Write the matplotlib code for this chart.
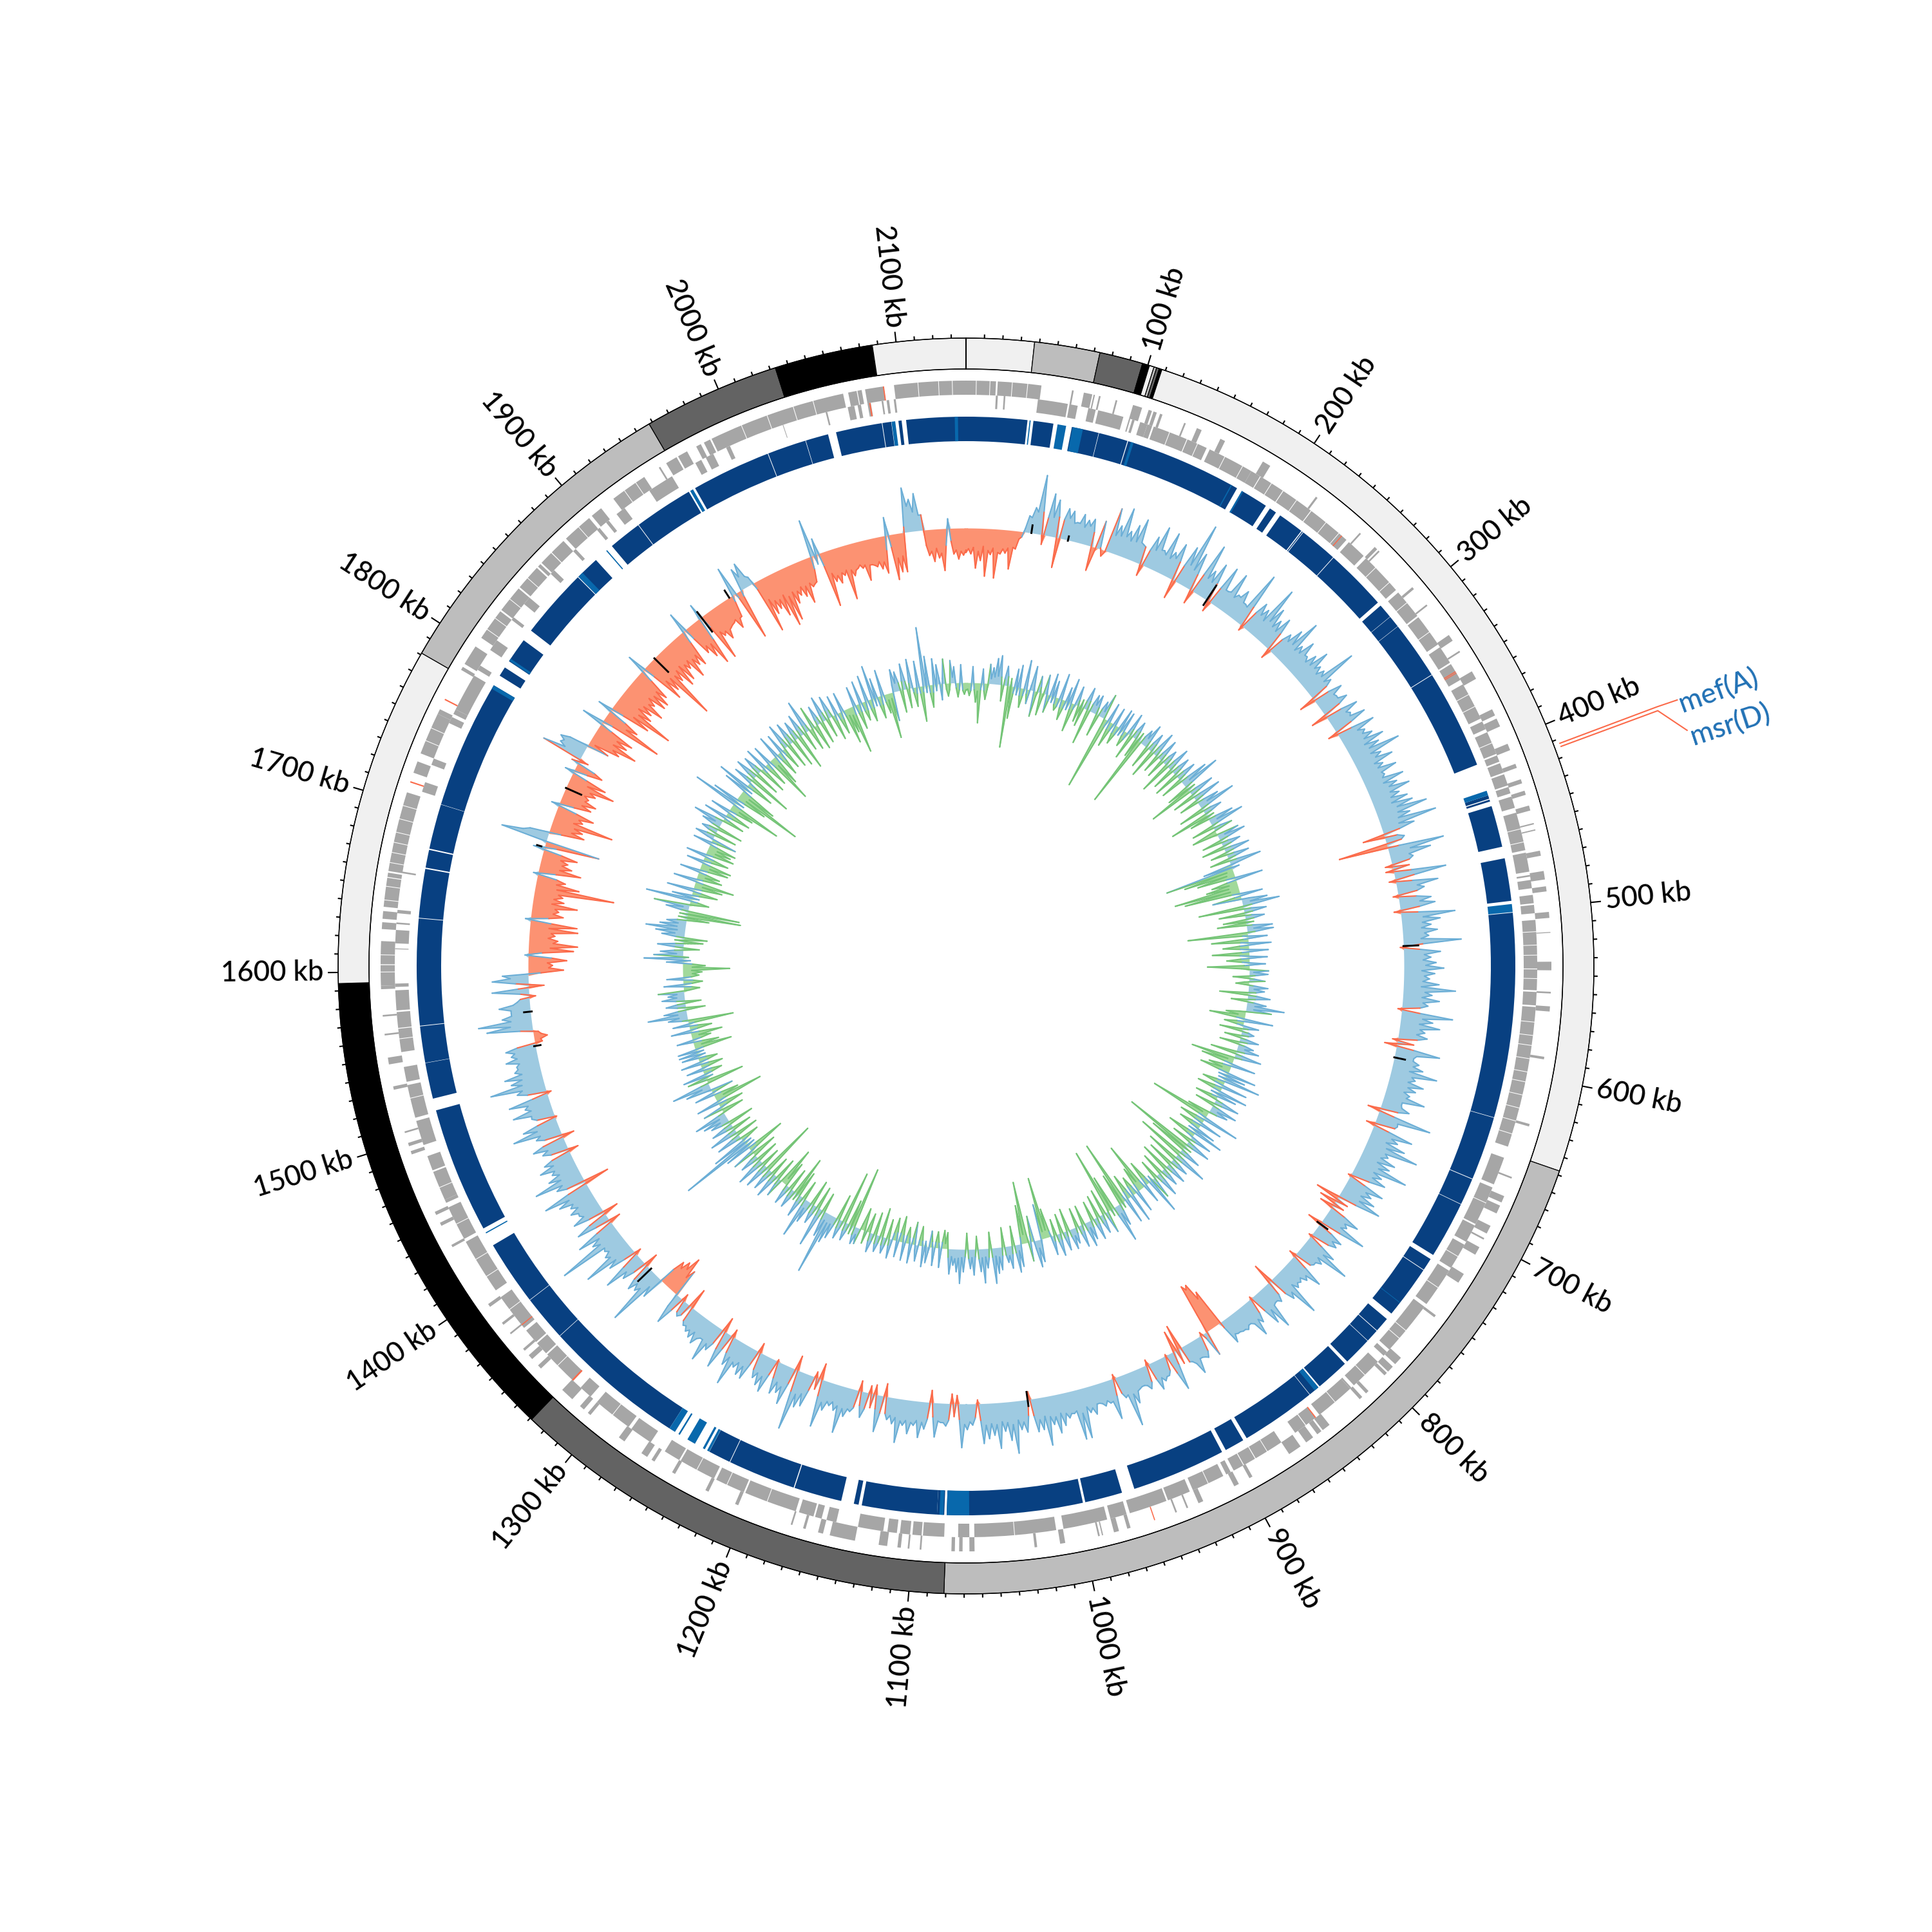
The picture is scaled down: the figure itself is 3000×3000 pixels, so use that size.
import numpy as np
import matplotlib
matplotlib.use("Agg")
import matplotlib.pyplot as plt
from matplotlib.collections import LineCollection

plt.rcParams['font.family'] = ['Lato', 'DejaVu Sans']

GENOME_KB = 2138.0
WINDOW_KB = 2.0

sector_edges = [0, 37.3, 73.2, 97, 100.9, 103.5, 105, 106.5, 108, 647.7, 1081, 1329, 1594, 1781, 1958, 2033, 2087, 2138]
sector_shades = ['#f0f0f0', '#bdbdbd', '#636363', '#000000', '#f0f0f0', '#bdbdbd', '#636363', '#000000',
                 '#f0f0f0', '#bdbdbd', '#636363', '#000000', '#f0f0f0', '#bdbdbd', '#636363', '#000000', '#f0f0f0']

major_ticks = [100, 200, 300, 400, 500, 600, 700, 800, 900, 1000, 1100, 1200, 1300, 1400, 1500, 1600, 1700, 1800, 1900, 2000, 2100]

outer_strand_genes = [
 (0,17.5),(18.5,44),(62,63),(69,74),(74.8,75.6),(78,79),(88,89),(98.5,104),(108,110),(111,113),(115,116.5),(130,131),
 (138,141),(153,156),(181,186),(218,219.2),(251,252),(263,265),(266,267),(295,296.5),(308,309),(330,334),(341,342),
 (355,360),(380,384),(386,391),(402,406),(414.5,417),(424,426.5),(431,433.5),(440,443),(450.5,451.3),(454.3,455),
 (467,470),(479,484),(488,491),(503,506.5),(514.7,515.2),(532,537),(549.5,550.5),(558,561),(587.5,589),(627.5,629),
 (660,661),(672,676),(678,683),(691,696),(699,700),(705,710),(723,729),(752,753.5),(784,789),(791,795),(796,798),
 (811,813),(816,818),(841,846),(847,850),(853,858),(862,870),(895,897),(904,907),(927,930),(936.5,937.5),(943.5,944.5),
 (972,974),(979,982),(988.5,989.2),(990.5,991.5),(1011,1014),(1027.5,1029),(1064,1067),(1071,1073),(1075.5,1077.5),
 (1095,1096),(1102,1103),(1107,1109),(1115,1120),(1134,1149),(1153,1156),(1163.5,1165),(1171.5,1172.5),(1205,1207),
 (1224,1226),(1246,1248),(1260,1262),(1265,1269),(1281,1285),(1306,1308),(1311,1314),(1320,1328),(1345.5,1348),
 (1353,1356),(1359.5,1361),(1372,1373),(1379,1380.5),(1392,1394),(1433,1434.5),(1447,1449),(1454,1456),(1492,1494),
 (1497,1499),(1505,1506),(1531,1533),(1546,1550),(1563,1564),(1574,1575),(1590,1592),(1592,1604),(1604.5,1618),
 (1625,1629),(1631,1635.5),(1638,1655),(1655.5,1658),(1659,1706),(1718,1725),(1730,1755),(1755,1758),(1784,1786),
 (1788,1800),(1806,1825),(1826,1842),(1843,1858),(1859,1861),(1862,1870),(1870.5,1880),(1882,1900),(1902,1909),
 (1918,1940),(1950,1951),(1955,1962),(1963,1969),(1975,1978),(1980,1984),(1985,2066),(2069,2074),(2074.5,2077),
 (2079,2090),(2096,2138)]

inner_strand_genes = [
 (17.8,19),(22.5,23.5),(43,61),(62,67),(73.5,78),(79.5,95),(98.5,99.3),(100.5,102),(105.5,110),(110,113),(114,135),
 (135.5,148),(150,178),(178,184),(184.5,200),(200.5,220.5),(221,248),(250,262),(264,290),(292,310),(311,331),(333,344),
 (345,356),(359,382),(384,389),(391,405),(406,410),(411,417),(418,425),(426,430),(432,439),(442,465),(466.5,478),
 (480,481),(483,488),(492,497),(498,503),(507,536),(536.5,549),(550,558),(559,644),(651,668),(670,694),(695,706),
 (708,724),(726,750),(752,785),(787,790),(795,815),(817,818),(818,842),(845,852),(852.5,860),(870,888),(888.5,896),
 (896.5,903),(905,908),(910,930),(932,946),(947,970),(972,982),(984,1010.6),(1015,1064),(1067,1073.7),(1082,1094.7),
 (1095.5,1101),(1102.4,1108.5),(1110.3,1116),(1118.5,1133.8),(1147,1153),(1156,1160),(1161,1170),(1172,1204),
 (1205,1223),(1224.5,1247),(1248,1258),(1268,1282),(1284,1308),(1313,1321),(1327,1349),(1350,1358),(1359,1368),
 (1370,1393),(1398,1432),(1434,1455),(1458,1460),(1460,1478),(1479,1488),(1495,1510),(1512,1532),(1534,1543),
 (1552,1566),(1566.5,1576),(1577,1589),(1591,1593),(1613.5,1614),(1617,1625),(1628.5,1629.5),(1635,1637),(1659,1660),
 (1709,1715),(1726,1730),(1753,1757),(1759,1762),(1762,1785),(1789,1792),(1803,1810),(1825,1827),(1837,1842),
 (1861,1864),(1880,1882),(1899,1901),(1906,1908),(1914,1920),(1938,1954),(1970,1974),(1977,1982),(1990.5,1993),
 (2026.8,2027.2),(2053.5,2054.5),(2067,2071),(2073,2075),(2079,2081),(2087.5,2088.5),(2090.5,2092),(2094.8,2096)]

# thin breaks between neighbouring genes inside the dense stretches
outer_strand_breaks = [6, 14, 27, 36, 2110, 2122, 2130, 2004, 2020, 2036, 2048, 1600, 1610, 1642, 1650, 1664, 1670, 1676,
                       1682, 1690, 1698, 1738, 1746, 1812, 1820, 1834, 1850, 1892, 1926, 1934]
inner_strand_breaks = [124, 142, 160, 172, 192, 210, 232, 242, 272, 284, 300, 322, 366, 374, 398, 452, 460, 514, 522, 528,
                       542, 568, 576, 582, 590, 598, 604, 612, 620, 628, 636, 680, 716, 738, 770, 776, 806, 830, 880, 920,
                       1040, 1190, 1216, 1236, 1296, 1340, 1384, 1408, 1420, 1444, 1468, 1524, 1560]

flagged_outer_genes = [(2089.5,2090.2),(1712,1712.8),(1764,1764.8),(957,957.6)]
flagged_inner_genes = [(2080,2080.8),(244,244.6),(350,350.6),(351,351.5),(844.5,845.2),(1327,1328),(1372,1372.6)]

homology_dark = [
 (0,38.2),(41.9,54.4),(66,83),(83.3,101.5),(102,175.6),(179,196.5),(199.5,204),(207.2,223.4),(224,224.6),(225,249),
 (249.4,288.5),(291,300),(300.2,307.6),(307.8,344.2),(344.6,406.8),(427,429.2),(429.8,431),(434,460),(467.3,494),
 (501.4,629.5),(629.8,669.8),(670.2,687),(687.3,723),(726,733.8),(734.2,767.6),(772,781.3),(781.7,789.8),(790.1,808),
 (810,831),(832,838.8),(839.1,886.5),(889,901.4),(904,963),(971,994.5),(996,1081),(1082.5,1087),(1087,1134),(1136,1139),
 (1147,1177),(1177.6,1220),(1220.4,1234.4),(1263,1352),(1352.3,1381),(1381.3,1422),(1434,1513),(1520.5,1543),
 (1543.2,1566),(1566.4,1633),(1633.4,1664),(1664.8,1676),(1676.8,1705),(1705.2,1786),(1793,1799),(1803.6,1819.5),
 (1827,1871),(1871.5,1886.5),(1899.6,1920.4),(1920.8,1958),(1962.5,2012.3),(2012.7,2037),(2037.3,2051.6),
 (2056.7,2085.6),(2086,2091.5),(2096,2098),(2100.8,2138)]

homology_light = [
 (39.5,40.2),(57,62.4),(66.5,73),(103.8,105.5),(171.3,172),(179,180),(424,427),(496,501),(758.8,759.2),(832,835),
 (1067,1081),(1083,1085.5),(1234.5,1236),(1237.6,1239),(1244.6,1250),(1255.5,1256.5),(1259,1263),(1430.5,1431.2),
 (1783.5,1786),(1804,1805.5),(1871.5,1875),(1895,1895.7),(1959,1961),(2091.7,2094),(2131,2133)]

skew_at_even = [
 -38,-40,-62,-50,-74,-40,-76,-38,-36,-60,-28,-8,26,40,92,-15,66,58,-47,48,46,30,45,38,42,
 -38,44,-10,70,45,76,42,55,68,30,-18,50,70,35,68,40,58,-30,62,104,60,-22,84,45,62,
 -17,66,30,66,35,48,30,90,-8,50,45,90,60,45,55,-16,40,55,78,40,55,35,45,60,40,
 40,88,40,-25,47,32,45,-25,52,35,55,-15,60,40,48,62,50,80,45,60,40,58,35,62,48,
 65,45,55,60,80,50,89,51,-34,30,-77,88,65,35,-11,-12,81,-10,65,42,-8,50,55,-10,84,
 60,45,54,40,90,-5,57,42,50,62,48,40,55,81,45,57,40,-6,80,50,62,40,45,-8,-19,
 69,30,40,48,72,40,55,45,38,64,30,45,-19,85,35,-13,65,45,60,84,40,55,50,82,45,
 55,-4,60,45,55,69,-37,-26,-21,52,38,74,-22,45,42,-4,50,80,40,32,-10,58,40,35,38,
 80,45,-32,35,30,69,55,-3,40,57,30,35,32,30,40,-60,-78,-80,40,-5,35,30,52,28,-39,
 -33,61,-2,30,35,45,-8,37,28,30,50,83,35,-6,63,35,37,30,45,40,78,78,35,40,50,
 60,45,76,50,52,-12,50,45,81,60,45,71,50,55,62,-6,33,40,68,-13,-15,35,30,53,-19,
 42,56,38,52,40,68,40,35,-20,57,-15,-12,40,-16,35,45,73,40,35,45,74,-25,-9,50,55,
 94,-23,60,45,50,-3,55,48,40,-15,50,48,40,73,45,-12,59,-23,40,63,30,45,40,35,30,
 -32,25,-11,50,-45,-63,-50,-44,36,91,40,45,-22,40,65,-10,45,82,40,35,107,45,64,-18,54,
 -24,50,35,45,40,55,75,-40,45,77,50,40,56,45,-16,40,52,-19,40,74,55,-3,35,62,40,
 63,-7,45,85,50,58,40,35,50,40,47,-12,-21,-8,71,83,45,30,48,19,-10,57,-24,56,40,
 -55,-38,-60,5,-70,-76,-45,-40,-75,-73,8,-50,-42,-70,-48,-45,-124,-68,-45,7,-66,-50,-42,-55,17,
 -86,73,30,-55,-50,-96,-45,-60,12,-50,-55,-40,-48,-75,-58,14,-45,11,65,40,44,-35,-50,-75,-55,
 -60,34,-98,-55,22,-65,-100,-60,-55,-70,-50,-64,-64,-55,29,-70,-60,-115,-55,-70,-65,-50,-71,-55,-60,
 32,-50,-62,-79,24,-80,-45,-55,-40,-37,-50,-35,46,-80,35,40,12,-85,-60,-55,-70,-90,-84,-60,-50,
 -55,-68,-45,-40,58,25,-87,-50,-55,-45,-85,-50,-40,-42,-63,-40,-45,-50,-58,28,-71,-60,-61,69,50,
 58,24,-40,-50,-45,-65,15,-40,-48,-42]

skew_at_odd = [
 -32,-30,-36,-28,-34,-30,-36,-30,-28,-26,-12,6,24,34,35,28,30,32,30,34,28,30,26,30,22,
 -6,2,-2,28,30,32,28,30,32,28,26,30,34,30,28,32,30,28,34,30,26,32,30,28,30,
 28,30,32,28,34,30,28,34,30,32,28,34,30,28,30,26,30,32,28,30,34,28,30,32,28,
 32,30,28,26,30,32,28,26,30,32,28,24,30,34,32,28,32,30,34,28,30,32,30,28,34,
 32,30,28,34,32,30,28,26,20,24,18,34,30,28,26,28,30,26,32,30,28,32,30,28,34,
 32,30,34,28,30,26,32,30,34,28,32,30,28,34,30,32,28,30,34,30,32,28,30,26,28,
 34,30,32,28,34,30,32,28,34,30,32,28,26,34,32,26,34,28,32,34,30,28,34,30,32,
 30,28,34,30,32,30,20,18,26,32,30,34,24,32,30,24,34,30,32,28,26,34,30,32,28,
 36,30,24,30,32,34,28,26,32,34,30,32,30,28,10,-50,-72,-30,8,26,32,30,34,26,24,
 22,32,24,30,28,26,28,30,28,32,34,32,26,28,34,30,32,30,34,30,38,32,34,32,30,
 34,32,30,34,26,26,34,30,36,32,30,34,32,34,26,22,28,32,24,20,26,30,28,22,26,
 32,30,34,32,34,30,28,26,28,22,22,26,22,28,32,34,32,28,30,34,26,18,24,32,36,
 34,26,34,30,26,26,32,30,28,24,32,30,34,30,26,26,30,26,32,30,34,28,30,28,24,
 20,20,24,22,-30,-40,-35,-25,20,32,30,28,22,30,28,20,30,34,30,32,34,30,28,24,30,
 26,30,34,30,34,36,32,30,34,32,30,34,32,30,28,30,34,28,32,34,30,28,34,32,34,
 24,30,36,34,32,30,34,30,32,34,28,-10,-12,20,34,32,30,30,26,14,14,16,20,28,-20,
 -32,-30,-36,-22,-34,-38,-30,-34,-30,-32,-28,-34,-36,-30,-32,-38,-34,-32,-30,-28,-32,-34,-30,-28,-20,
 10,40,-20,-34,-36,-32,-38,-30,-24,-34,-36,-32,-38,-30,-24,-22,-30,-15,30,36,30,-10,-38,-34,-36,
 -20,-18,-38,-30,-22,-36,-40,-34,-38,-42,-36,-40,-38,-20,-20,-38,-40,-42,-38,-36,-40,-38,-42,-40,-20,
 -20,-40,-42,-38,-22,-36,-40,-42,-38,-34,-36,-10,-10,-10,20,16,-12,-34,-40,-42,-38,-44,-40,-42,-38,
 -40,-38,-42,-20,-15,-22,-36,-42,-40,-38,-40,-42,-36,-38,-40,-42,-38,-40,-22,-20,-38,-36,10,40,30,
 24,-24,-34,-30,-38,-26,-20,-34,-36,-34]

content_at_even = [
 -12,-20,25,-30,-62,22,-25,30,25,40,45,-25,30,-96,-50,28,35,-30,45,-22,38,-40,25,-35,30,
 -28,35,25,-20,40,-32,22,38,-45,30,-25,-30,35,-55,28,30,-35,25,40,-116,30,-40,28,-30,32,
 30,-25,35,-40,28,-30,-113,25,38,-35,30,-45,40,-28,35,-30,25,-50,38,-35,30,-40,32,-35,45,
 62,-35,-70,40,-35,45,-30,35,59,-40,30,-61,-30,40,54,-35,30,-40,35,43,-30,30,-35,40,-25,
 35,-30,50,-45,-108,-80,-60,43,-40,-50,-102,-87,35,-45,40,58,-70,35,-40,30,-35,-45,40,41,-93,
 30,-57,35,-40,30,-57,28,-35,25,-65,30,29,-25,25,-20,30,25,-44,35,-25,30,59,40,-30,-55,
 45,-30,25,-35,20,-25,30,-30,25,35,-40,42,-68,-50,38,-35,-47,45,30,56,-35,40,-39,45,30,
 -35,40,-30,42,30,-35,-95,57,-40,35,-35,30,47,-45,35,-30,40,-107,-60,35,-74,54,-50,30,-40,
 35,-45,30,-35,40,-30,35,57,-40,30,-78,-40,35,-30,45,-40,40,-103,-50,35,59,-55,-102,35,-40,
 30,-35,35,-30,30,39,-30,35,-30,25,32,-35,30,-30,35,-25,30,-45,-96,-55,35,42,-40,30,-96,
 -60,35,43,-30,35,25,-30,35,40,55,-25,30,53,35,-20,40,30,-25,35,53,35,25,39,-25,-28,
 30,-25,28,-25,25,32,-30,25,-35,30,-25,28,-40,25,-35,30,-30,25,-45,26,-35,30,-30,20,-35,
 25,27,-95,-40,28,-82,30,-40,35,45,99,40,-30,62,-35,30,-40,35,63,-30,35,-40,-62,30,-35,
 31,-40,-61,30,-35,40,-30,35,-88,40,-30,45,-35,30,-40,35,-62,40,114,55,-30,40,-35,45,-30,
 35,-40,30,40,51,-35,30,-40,35,-77,-40,30,-35,40,60,-59,30,35,-30,25,-35,30,-30,25,28,
 28,-59,-40,25,-30,-49,30,-35,25,-71,30,61,35,-30,30,-25,35,25,40,-25,30,-30,25,-25,-30,
 -73,-35,25,60,45,35,-25,40,-30,-36,35,45,61,40,30,-35,-84,-81,35,55,-30,70,30,-40,41,
 -45,-62,35,-40,-35,30,-45,-48,25,-40,30,-45,-38,-44,28,-40,30,-35,25,-40,30,47,-35,35,-40,
 30,-40,-83,70,40,-50,-107,-60,35,50,-45,30,-69,35,-40,30,-45,35,-40,30,-77,-50,35,-40,30,
 -35,40,-40,35,-45,30,-56,35,-30,52,-35,35,-40,30,-35,40,-30,35,-40,30,-35,30,-55,-40,-75,
 30,-40,35,-30,40,-35,52,30,-35,40,-30,-71,-45,35,30,-35,40,-30,45,-30,40,-55,91,45,-35,
 40,30,-25,38,-20,35,25,-22,28,-18]

content_at_odd = [
 -10,-12,-11,-13,-10,-12,-9,8,11,13,12,10,14,12,-10,-12,-13,-11,-8,7,8,-7,8,-8,8,
 -9,-10,-12,-13,-14,-12,-13,-11,-8,8,12,13,14,12,13,11,12,10,-9,-11,-13,-12,-14,-13,-11,
 -9,-12,10,12,13,14,12,13,11,12,13,14,12,10,11,13,12,14,11,13,12,14,11,13,12,
 12,13,11,14,12,13,11,14,12,13,11,12,13,12,10,12,-9,-11,11,13,12,14,12,13,12,
 12,13,11,12,-10,-12,-14,-15,-13,-15,-14,-12,-10,12,13,14,12,13,11,13,12,10,11,12,-8,
 -8,-12,-14,-13,-12,-14,-13,-11,-8,-12,7,9,8,-7,8,9,12,14,12,11,13,12,-9,-11,-12,
 -11,-9,9,11,12,10,13,11,12,13,11,12,-9,-12,-14,-13,-15,-14,-12,-13,-14,-12,-11,-13,-10,
 12,13,11,12,13,-9,-12,-14,-13,-15,-12,-14,-13,-10,9,11,12,13,11,10,12,13,12,13,11,
 12,13,11,13,12,9,-8,-11,-12,-13,-14,-12,-13,-15,-14,-12,-9,9,12,14,13,11,-8,9,11,
 12,11,10,12,10,12,11,13,10,12,11,10,9,11,12,10,-9,-12,-11,10,13,12,-9,-13,-14,
 -10,10,12,14,15,13,14,15,13,14,15,13,14,15,12,13,14,12,13,14,15,12,13,-8,-9,
 -9,-8,-9,8,-8,-9,-8,9,-9,-10,-11,-12,-13,-14,-10,10,12,13,12,14,12,13,-10,-12,-9,
 11,13,14,12,13,11,14,12,13,14,12,13,14,12,13,14,12,13,11,12,10,11,13,12,11,
 9,-10,-11,10,11,13,12,14,12,13,12,14,11,9,-10,-12,-13,-14,-12,-9,9,12,13,11,13,
 12,14,13,11,9,-10,-12,-14,-15,-14,-12,-8,10,13,12,-8,-12,-13,-14,-12,-13,-14,-12,-13,-12,
 -14,-12,-13,-14,-12,-13,-12,-13,-10,10,13,14,12,13,12,14,12,11,-9,-12,-14,-15,-13,-15,-14,
 -15,-14,-12,-9,10,13,14,12,14,13,15,12,13,12,14,13,12,11,9,-8,-11,-13,-12,-13,-14,
 -13,-12,-11,-13,-12,-14,-15,-13,-14,-15,-13,-14,-15,-12,-10,9,12,13,14,12,10,12,-9,-12,-13,
 -14,-15,-14,-16,-15,-14,-16,-15,-13,-12,-10,9,12,13,12,11,-9,-11,-12,-13,-14,-12,-13,-14,-10,
 10,12,13,14,12,13,11,13,12,9,-8,-10,8,10,11,12,13,11,-9,-11,-12,-10,-11,-13,-14,
 -14,-13,-15,-14,-15,-14,-13,-15,-14,-12,-10,-9,11,13,12,14,12,9,-8,-10,-12,-9,-11,-13,-12,
 -10,9,8,-9,-10,9,-8,-10,-12,-11]

excursion_kb = [51, 80, 198, 519, 606, 748.6, 1021, 1343, 1541, 1568, 1697, 1746, 1868.6, 1917, 1943.6]
excursion_low = [0, -1, -9, 0, 0, -5, -12, -2, -8, -2, 5, -26, -30, -28, 0]
excursion_high = [12, 6, 27, 23, 17, 14, 10, 26, 2, 10, 12, 0, 0, 10, 13]

gene_labels = ['mef(A)', 'msr(D)']

def kb2th(kb):
    return np.asarray(kb, dtype=float) / GENOME_KB * 2 * np.pi

def interleave(even, odd):
    out = np.empty(len(even) + len(odd))
    out[0::2] = even
    out[1::2] = odd
    return out

fig = plt.figure(figsize=(10, 10), dpi=300, facecolor='white')
ax = fig.add_axes([0, 0, 1, 1], polar=True)
ax.set_theta_zero_location('N')
ax.set_theta_direction(-1)
ax.set_rlim(0, 1500)
ax.axis('off')

R_RING_IN, R_RING_OUT = 927, 975

def ring_bar(spans, r0, r1, color, **kw):
    s = np.array(spans, dtype=float)
    ax.bar(kb2th((s[:, 0] + s[:, 1]) / 2), r1 - r0, width=kb2th(s[:, 1] - s[:, 0]), bottom=r0,
           color=color, linewidth=0, align='center', **kw)

edges = np.array(sector_edges, dtype=float)
ax.bar(kb2th((edges[:-1] + edges[1:]) / 2), R_RING_OUT - R_RING_IN, width=kb2th(np.diff(edges)), bottom=R_RING_IN,
       color=sector_shades, edgecolor='black', linewidth=0.3, align='center')
circ = np.linspace(0, 2 * np.pi, 1441)
ax.plot(circ, np.full_like(circ, R_RING_OUT), color='black', lw=0.35)
ax.plot(circ, np.full_like(circ, R_RING_IN), color='black', lw=0.35)
ax.plot([0, 0], [R_RING_IN, R_RING_OUT], color='black', lw=0.5)

for kb in np.arange(0, GENOME_KB, 10):
    t = kb2th(kb)
    major = int(kb) in major_ticks
    if kb == 0:
        continue
    ax.plot([t, t], [R_RING_OUT, R_RING_OUT + (16 if major else 6)], color='black', lw=0.5, solid_capstyle='butt')

for kb in major_ticks:
    t = kb2th(kb)
    deg = np.degrees(t)
    if deg < 180:
        rot, ha = 90 - deg, 'left'
    else:
        rot, ha = 270 - deg, 'right'
    ax.text(t, 998, f'{kb} kb', rotation=rot, rotation_mode='anchor', ha=ha, va='center', fontsize=10.5,
            fontweight='medium', color='black')

GENE_GREY = '#a6a6a6'
ring_bar(outer_strand_genes, 887, 909, GENE_GREY)
ring_bar(inner_strand_genes, 866, 887, GENE_GREY)
for kb in outer_strand_breaks:
    ax.plot(kb2th([kb, kb]), [887, 909], color='white', lw=0.25)
for kb in inner_strand_breaks:
    ax.plot(kb2th([kb, kb]), [866, 887], color='white', lw=0.25)
ring_bar(flagged_outer_genes, 887, 909, '#fb6a4a')
ring_bar(flagged_inner_genes, 866, 887, '#fb6a4a')

ring_bar(homology_dark, 815, 853, '#084081')
ring_bar(homology_light, 815, 853, '#0868ac')

def signal_track(values, base, pos_fill, pos_line, neg_fill, neg_line):
    v = np.append(values, values[0])
    th = kb2th(np.arange(len(values)) * WINDOW_KB)
    th = np.append(th, 2 * np.pi)
    ax.fill_between(th, base, base + np.where(v > 0, v, 0), color=pos_fill, linewidth=0)
    ax.fill_between(th, base, base + np.where(v < 0, v, 0), color=neg_fill, linewidth=0)
    major = np.sign(np.convolve(np.sign(v), np.ones(15), 'same'))
    segs, cols = [], []
    for i in range(len(v) - 1):
        a, b = v[i], v[i + 1]
        if a > 0 and b > 0:
            c = pos_line
        elif a < 0 and b < 0:
            c = neg_line
        else:
            c = neg_line if major[i] > 0 else pos_line
        segs.append([(th[i], base + a), (th[i + 1], base + b)])
        cols.append(c)
    ax.add_collection(LineCollection(segs, colors=cols, linewidths=0.5, capstyle='round'))

SKEW_BASE, CONTENT_BASE = 680, 440
signal_track(interleave(skew_at_even, skew_at_odd), SKEW_BASE, '#9ecae1', '#6baed6', '#fc9272', '#fb6a4a')
signal_track(interleave(content_at_even, content_at_odd), CONTENT_BASE, '#9ecae1', '#6baed6', '#a1d99b', '#74c476')

for kb, lo, hi in zip(excursion_kb, excursion_low, excursion_high):
    t = kb2th(kb)
    ax.plot([t, t], [SKEW_BASE + lo, SKEW_BASE + hi], color='black', lw=0.7)

LEADER_KB = [[412.4, 412.4, 412.7], [414.2, 414.2, 427]]
LEADER_R = [[985, 1146, 1179], [985, 1145, 1178]]
for k, r in zip(LEADER_KB, LEADER_R):
    ax.plot(kb2th(k), r, color='#fb6a4a', lw=0.5)
ax.text(kb2th(419), 1180, gene_labels[0], color='#2171b5', fontsize=10.5, fontweight='medium', rotation=20, rotation_mode='anchor', ha='left', va='baseline')
ax.text(kb2th(434.5), 1181, gene_labels[1], color='#2171b5', fontsize=10.5, fontweight='medium', rotation=18, rotation_mode='anchor', ha='left', va='baseline')

fig.savefig('out.png', dpi=300, facecolor='white')
